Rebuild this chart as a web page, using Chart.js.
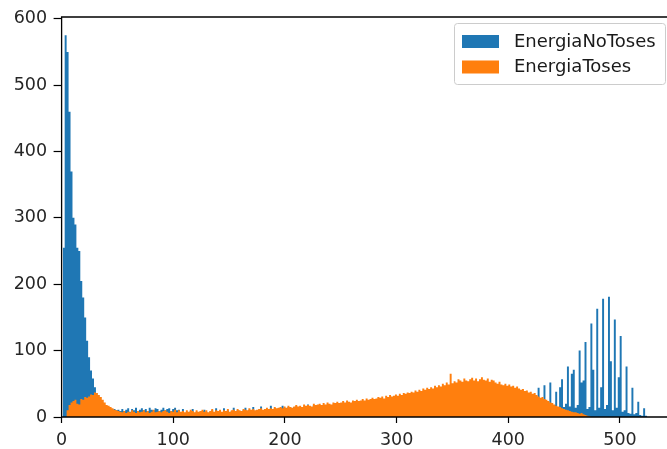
<!DOCTYPE html>
<html>
<head>
<meta charset="utf-8">
<script src="https://cdn.jsdelivr.net/npm/chart.js@4.4.0/dist/chart.umd.min.js"></script>
<style>
  html, body { margin: 0; padding: 0; background: #fff; }
</style>
</head>
<body>
<canvas id="hist" width="667" height="449"></canvas>
<script>
// histogram bins: left edge of bin i = binStart + i * binWidth
const binStart = 1.0;
const binWidth = 1.75;

// counts per bin
const energiaNoToses = [
  255,575,550,460,370,300,290,255,250,205,   // 0
  180,150,115,90,70,58,45,33,26,20,
  17,15,14,13,12,11,12,10,11,9,
  12,9,11,13,8,12,10,14,9,11,
  13,10,12,9,14,11,10,13,12,9,
  11,14,10,12,13,9,12,14,10,11,               // 50
  7,12,6,8,7,9,12,6,8,7,
  8,9,11,8,6,8,10,7,13,8,
  9,7,13,8,10,7,9,14,8,10,
  9,8,10,14,9,11,10,15,9,10,
  11,16,10,11,12,11,17,11,13,12,              // 100
  13,14,17,14,13,15,14,12,15,16,
  13,12,14,11,13,19,12,13,18,12,
  14,12,15,13,11,14,12,15,13,12,
  13,15,12,14,16,13,12,15,14,13,
  15,13,16,14,12,15,17,13,14,16,              // 150
  14,16,13,15,17,14,16,15,13,17,
  15,17,14,16,18,15,17,16,14,18,
  16,18,15,17,19,16,18,17,15,19,
  17,19,16,18,20,17,19,18,16,20,
  18,20,17,19,21,18,20,19,17,21,              // 200
  19,21,18,20,22,19,21,20,18,22,
  20,22,19,21,23,20,22,21,19,23,
  21,23,20,22,24,21,23,22,20,24,
  20,12,15,44,10,14,48,12,16,52,
  14,18,38,12,45,57,15,20,76,16,              // 250
  65,71,14,18,100,52,55,113,12,15,
  141,71,10,163,14,45,178,12,18,181,
  84,10,147,14,60,122,8,10,76,6,
  5,44,4,6,23,3,2,13,2,0
];

const energiaToses = [
  0,0,10,18,22,24,26,20,19,27,                // 0
  26,30,29,31,34,33,37,36,33,30,
  26,22,18,17,15,13,11,10,9,8,
  7,9,6,8,7,10,8,6,9,7,
  8,10,7,9,6,8,11,7,8,9,
  7,9,10,8,6,9,8,11,7,10,                     // 50
  8,9,7,10,8,11,9,7,10,8,
  9,11,8,10,7,9,12,8,10,9,
  11,8,10,9,12,8,10,11,9,12,
  10,9,12,11,10,13,11,12,10,11,
  12,13,11,12,14,12,13,12,15,13,              // 100
  14,15,13,16,14,17,15,14,16,18,
  16,17,15,19,17,18,17,16,20,18,
  19,20,18,21,19,22,20,19,22,21,
  23,21,22,24,22,25,23,22,25,24,
  26,24,25,27,25,28,26,27,29,27,              // 150
  28,30,29,31,28,32,30,33,31,32,
  34,32,35,33,36,35,37,36,38,37,
  40,38,41,39,43,41,44,42,45,43,
  47,45,48,46,50,48,52,49,65,51,
  54,52,57,55,53,58,55,54,57,59,              // 200
  55,58,54,57,60,56,55,58,53,56,
  55,52,50,53,49,48,50,47,49,46,
  47,44,46,43,41,42,39,40,37,38,
  35,36,33,31,29,30,27,26,24,22,
  21,19,17,16,15,13,12,11,10,9,               // 250
  8,7,7,6,5,6,4,3,2,1,
  0,0,0,0,0,0,0,0,0,0,
  0,0,0,0,0,0,0,0,0,0,
  0,0,0,0,0,0,0,0,0,0
];

const seriesNames = ['EnergiaNoToses', 'EnergiaToses'];
const seriesColors = ['#1f77b4', '#ff7f0e'];
const xTicks = [0, 100, 200, 300, 400, 500];
const yTicks = [0, 100, 200, 300, 400, 500, 600];

// turn counts into step points (left edges + closing edge)
function toSteps(counts) {
  const pts = counts.map((c, i) => ({ x: binStart + i * binWidth, y: c }));
  pts.push({ x: binStart + counts.length * binWidth, y: 0 });
  return pts;
}

const tickFont = { family: 'DejaVu Sans', size: 17.5 };

// spines + boxed legend like matplotlib
const frameAndLegend = {
  id: 'frameAndLegend',
  afterDatasetsDraw(chart) {
    const { ctx, chartArea: a } = chart;
    ctx.save();
    ctx.strokeStyle = '#000';
    ctx.lineWidth = 1.3;
    ctx.beginPath();
    ctx.moveTo(a.left, a.bottom);
    ctx.lineTo(a.left, a.top);
    ctx.lineTo(chart.width + 2, a.top);
    ctx.moveTo(a.left, a.bottom);
    ctx.lineTo(chart.width + 2, a.bottom);
    ctx.stroke();
    ctx.restore();
  },
  afterDraw(chart) {
    const ctx = chart.ctx;
    ctx.save();
    ctx.beginPath();
    ctx.roundRect(454.5, 23.5, 211, 61, 3);
    ctx.fillStyle = 'rgba(255,255,255,0.8)';
    ctx.fill();
    ctx.strokeStyle = '#cccccc';
    ctx.lineWidth = 1;
    ctx.stroke();
    ctx.font = '18px "DejaVu Sans"';
    ctx.textBaseline = 'middle';
    seriesNames.forEach((name, i) => {
      const y = 35 + i * 25.5;
      ctx.fillStyle = seriesColors[i];
      ctx.fillRect(462, y, 37, 13);
      ctx.fillStyle = '#1a1a1a';
      ctx.fillText(name, 514, y + 7);
    });
    ctx.restore();
  }
};

function makeDataset(i, counts, order) {
  return {
    label: seriesNames[i],
    data: toSteps(counts),
    stepped: 'before',   // value of a bin holds until the next edge
    fill: 'origin',
    backgroundColor: seriesColors[i],
    borderColor: 'rgba(0,0,0,0)',
    borderWidth: 0,
    pointRadius: 0,
    pointHoverRadius: 0,
    order: order
  };
}

const chart = new Chart(document.getElementById('hist'), {
  type: 'line',
  data: {
    datasets: [
      makeDataset(0, energiaNoToses, 1),
      makeDataset(1, energiaToses, 0)   // drawn on top
    ]
  },
  options: {
    responsive: false,
    animation: false,
    events: [],
    layout: { padding: { top: 17, right: 0, bottom: 0, left: 0 } },
    plugins: {
      legend: { display: false },
      tooltip: { enabled: false }
    },
    scales: {
      x: {
        type: 'linear',
        min: 0,
        max: 542.1,
        afterFit: s => { s.height = 32; },
        afterBuildTicks: s => { s.ticks = xTicks.map(v => ({ value: v })); },
        border: { display: false },
        grid: { drawOnChartArea: false, drawTicks: true, tickLength: 6, tickColor: '#000', tickWidth: 1.2 },
        ticks: { font: tickFont, color: '#262626', padding: 7, maxRotation: 0, autoSkip: false }
      },
      y: {
        type: 'linear',
        min: 0,
        max: 602.6,
        afterFit: s => { s.width = 61.6; },
        afterBuildTicks: s => { s.ticks = yTicks.map(v => ({ value: v })); },
        border: { display: false },
        grid: { drawOnChartArea: false, drawTicks: true, tickLength: 8, tickColor: '#000', tickWidth: 1.2 },
        ticks: { font: tickFont, color: '#262626', padding: 6.5 }
      }
    }
  },
  plugins: [frameAndLegend]
});
</script>
</body>
</html>
